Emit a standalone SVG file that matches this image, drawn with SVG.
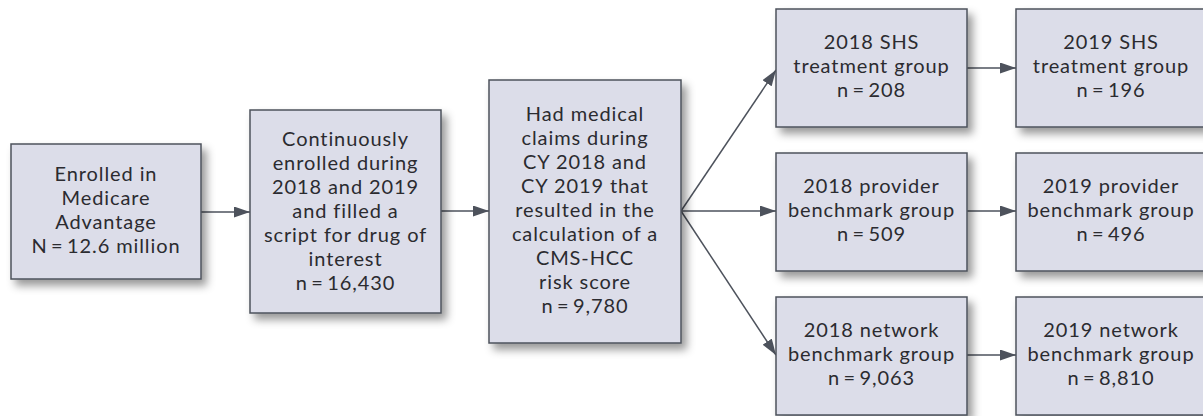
<svg xmlns="http://www.w3.org/2000/svg" width="1203" height="416" viewBox="0 0 1203 416">
<style>
.box{fill:#dcdde9;stroke:#4d525c;stroke-width:1.5;filter:url(#sh)}
.t{font-family:Lato,"Noto Sans",sans-serif;font-size:20px;letter-spacing:0.9px;fill:#2b2b30;text-anchor:middle}
.c{stroke:#4d525c;stroke-width:1.5;fill:none;marker-end:url(#ah)}
</style>
<defs>
<filter id="sh" x="-20%" y="-20%" width="150%" height="150%">
<feDropShadow dx="5" dy="6" stdDeviation="4" flood-color="#000" flood-opacity="0.4"/>
</filter>
<marker id="ah" markerUnits="userSpaceOnUse" markerWidth="16" markerHeight="11" refX="16" refY="5.5" orient="auto">
<path d="M0,0 L16,5.5 L0,11 z" fill="#4d525c"/>
</marker>
</defs>
<rect width="1203" height="416" fill="#fff"/>
<g id="connectors">
<line class="c" x1="201" y1="212" x2="250" y2="212"/>
<line class="c" x1="441" y1="211" x2="489" y2="211"/>
<line class="c" x1="681" y1="211" x2="776" y2="70"/>
<line class="c" x1="681" y1="211" x2="776" y2="211"/>
<line class="c" x1="681" y1="211" x2="776" y2="355"/>
<line class="c" x1="967" y1="68" x2="1016" y2="68"/>
<line class="c" x1="967" y1="211" x2="1016" y2="211"/>
<line class="c" x1="967" y1="355" x2="1016" y2="355"/>
</g>
<g id="n1">
<rect class="box" x="11" y="144" width="190" height="135"/>
<text class="t" x="106" y="181">Enrolled in</text>
<text class="t" x="106" y="205">Medicare</text>
<text class="t" x="106" y="229">Advantage</text>
<text class="t" x="106" y="253">N&#8201;=&#8201;12.6 million</text>
</g>
<g id="n2">
<rect class="box" x="250" y="110" width="191" height="203"/>
<text class="t" x="345.5" y="146">Continuously</text>
<text class="t" x="345.5" y="170">enrolled during</text>
<text class="t" x="345.5" y="194">2018 and 2019</text>
<text class="t" x="345.5" y="218">and filled a</text>
<text class="t" x="345.5" y="242">script for drug of</text>
<text class="t" x="345.5" y="266">interest</text>
<text class="t" x="345.5" y="290">n&#8201;=&#8201;16,430</text>
</g>
<g id="n3">
<rect class="box" x="489" y="80" width="192" height="263"/>
<text class="t" x="585" y="121">Had medical</text>
<text class="t" x="585" y="145">claims during</text>
<text class="t" x="585" y="169">CY 2018 and</text>
<text class="t" x="585" y="193">CY 2019 that</text>
<text class="t" x="585" y="217">resulted in the</text>
<text class="t" x="585" y="241">calculation of a</text>
<text class="t" x="585" y="265">CMS-HCC</text>
<text class="t" x="585" y="289">risk score</text>
<text class="t" x="585" y="313">n&#8201;=&#8201;9,780</text>
</g>
<g id="n4">
<rect class="box" x="776" y="9" width="191" height="118"/>
<text class="t" x="871.5" y="49">2018 SHS</text>
<text class="t" x="871.5" y="73">treatment group</text>
<text class="t" x="871.5" y="97">n&#8201;=&#8201;208</text>
</g>
<g id="n5">
<rect class="box" x="1016" y="9" width="191" height="118"/>
<text class="t" x="1111" y="49">2019 SHS</text>
<text class="t" x="1111" y="73">treatment group</text>
<text class="t" x="1111" y="97">n&#8201;=&#8201;196</text>
</g>
<g id="n6">
<rect class="box" x="776" y="153" width="191" height="118"/>
<text class="t" x="871.5" y="193">2018 provider</text>
<text class="t" x="871.5" y="217">benchmark group</text>
<text class="t" x="871.5" y="241">n&#8201;=&#8201;509</text>
</g>
<g id="n7">
<rect class="box" x="1016" y="153" width="191" height="118"/>
<text class="t" x="1111" y="193">2019 provider</text>
<text class="t" x="1111" y="217">benchmark group</text>
<text class="t" x="1111" y="241">n&#8201;=&#8201;496</text>
</g>
<g id="n8">
<rect class="box" x="776" y="297" width="191" height="118"/>
<text class="t" x="871.5" y="337">2018 network</text>
<text class="t" x="871.5" y="361">benchmark group</text>
<text class="t" x="871.5" y="385">n&#8201;=&#8201;9,063</text>
</g>
<g id="n9">
<rect class="box" x="1016" y="297" width="191" height="118"/>
<text class="t" x="1111" y="337">2019 network</text>
<text class="t" x="1111" y="361">benchmark group</text>
<text class="t" x="1111" y="385">n&#8201;=&#8201;8,810</text>
</g>
</svg>
